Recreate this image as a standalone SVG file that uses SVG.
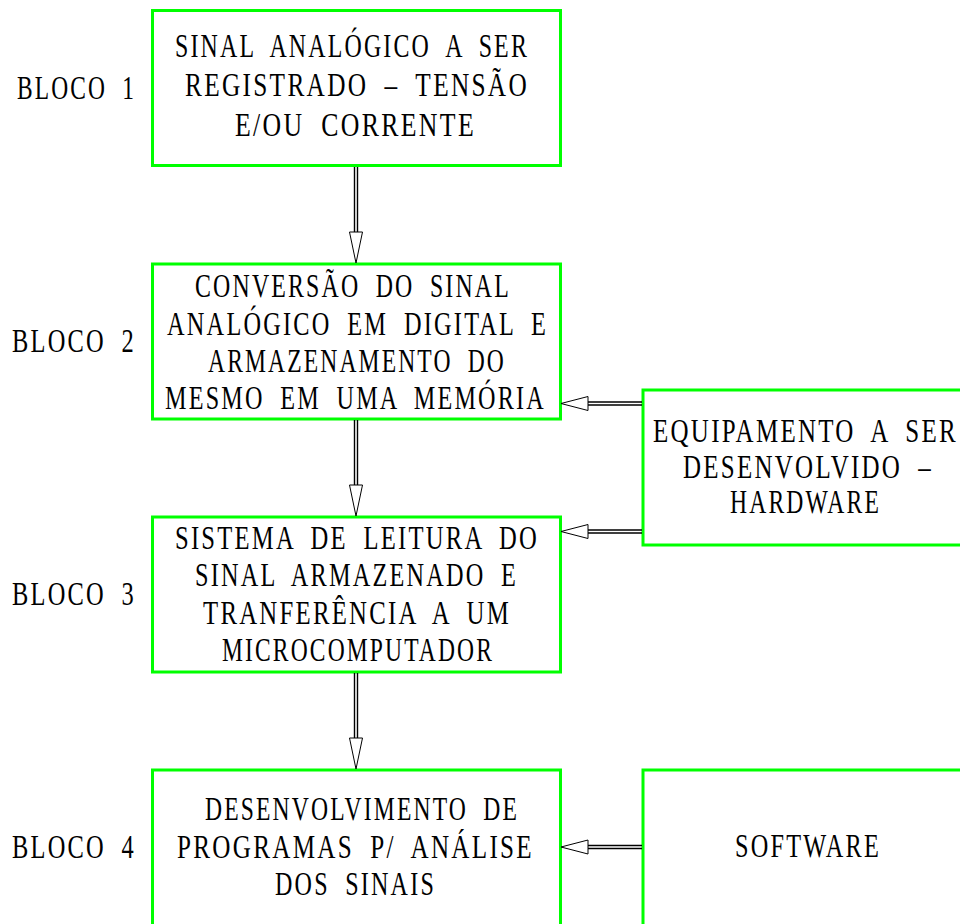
<svg xmlns="http://www.w3.org/2000/svg" width="960" height="924" viewBox="0 0 960 924">
<style>
.box{fill:none;stroke:#00ff00;stroke-width:3}
.t{font-family:"Liberation Serif","DejaVu Serif",serif;font-size:33px;fill:#000;letter-spacing:3px;word-spacing:10px}
.shaft{stroke:#000;stroke-width:1.4;fill:none}
.head{fill:#fff;stroke:#000;stroke-width:1}
</style>
<rect width="960" height="924" fill="#fff"/>
<g id="label1"><text class="t" x="17" y="99" textLength="119" lengthAdjust="spacingAndGlyphs">BLOCO 1</text></g>
<g id="label2"><text class="t" x="12" y="352" textLength="124" lengthAdjust="spacingAndGlyphs">BLOCO 2</text></g>
<g id="label3"><text class="t" x="12" y="605" textLength="124" lengthAdjust="spacingAndGlyphs">BLOCO 3</text></g>
<g id="label4"><text class="t" x="12" y="858" textLength="124" lengthAdjust="spacingAndGlyphs">BLOCO 4</text></g>
<g id="bloco1">
<rect class="box" x="152.5" y="10.5" width="408" height="155"/>
<text class="t" x="175" y="57" textLength="354" lengthAdjust="spacingAndGlyphs">SINAL ANALÓGICO A SER</text>
<text class="t" x="185" y="96" textLength="344" lengthAdjust="spacingAndGlyphs">REGISTRADO – TENSÃO</text>
<text class="t" x="235" y="136" textLength="241" lengthAdjust="spacingAndGlyphs">E/OU CORRENTE</text>
</g>
<g id="bloco2">
<rect class="box" x="152.5" y="264" width="408" height="155"/>
<text class="t" x="195" y="297" textLength="316" lengthAdjust="spacingAndGlyphs">CONVERSÃO DO SINAL</text>
<text class="t" x="167" y="335" textLength="381" lengthAdjust="spacingAndGlyphs">ANALÓGICO EM DIGITAL E</text>
<text class="t" x="208" y="372" textLength="298" lengthAdjust="spacingAndGlyphs">ARMAZENAMENTO DO</text>
<text class="t" x="165" y="409" textLength="381" lengthAdjust="spacingAndGlyphs">MESMO EM UMA MEMÓRIA</text>
</g>
<g id="bloco3">
<rect class="box" x="152.5" y="517" width="408" height="155"/>
<text class="t" x="175" y="549" textLength="364" lengthAdjust="spacingAndGlyphs">SISTEMA DE LEITURA DO</text>
<text class="t" x="195" y="586" textLength="323" lengthAdjust="spacingAndGlyphs">SINAL ARMAZENADO E</text>
<text class="t" x="203" y="624" textLength="308" lengthAdjust="spacingAndGlyphs">TRANFERÊNCIA A UM</text>
<text class="t" x="222" y="661" textLength="272" lengthAdjust="spacingAndGlyphs">MICROCOMPUTADOR</text>
</g>
<g id="bloco4">
<rect class="box" x="152.5" y="770" width="408" height="157"/>
<text class="t" x="205" y="820" textLength="314" lengthAdjust="spacingAndGlyphs">DESENVOLVIMENTO DE</text>
<text class="t" x="177" y="858" textLength="357" lengthAdjust="spacingAndGlyphs">PROGRAMAS P/ ANÁLISE</text>
<text class="t" x="275" y="895" textLength="161" lengthAdjust="spacingAndGlyphs">DOS SINAIS</text>
</g>
<g id="hardware">
<rect class="box" x="643" y="390" width="319" height="155"/>
<text class="t" x="653" y="442" textLength="305" lengthAdjust="spacingAndGlyphs">EQUIPAMENTO A SER</text>
<text class="t" x="683" y="478" textLength="250" lengthAdjust="spacingAndGlyphs">DESENVOLVIDO –</text>
<text class="t" x="730" y="513" textLength="151" lengthAdjust="spacingAndGlyphs">HARDWARE</text>
</g>
<g id="software">
<rect class="box" x="643" y="770" width="319" height="157"/>
<text class="t" x="735" y="857" textLength="146" lengthAdjust="spacingAndGlyphs">SOFTWARE</text>
</g>
<g id="connectors">
<path class="shaft" d="M354.5 167V232M357.5 167V232"/>
<polygon class="head" points="349.5,232 362.5,232 356,263"/>
<path class="shaft" d="M354.5 420V485M357.5 420V485"/>
<polygon class="head" points="349.5,485 362.5,485 356,516"/>
<path class="shaft" d="M354.5 673V738M357.5 673V738"/>
<polygon class="head" points="349.5,738 362.5,738 356,769"/>
<path class="shaft" d="M588 402H642M588 405H642"/>
<polygon class="head" points="588,396.5 588,410.5 561,403.5"/>
<path class="shaft" d="M588 530H642M588 533H642"/>
<polygon class="head" points="588,524.5 588,538.5 561,531.5"/>
<path class="shaft" d="M588 845.5H642M588 848.5H642"/>
<polygon class="head" points="588,840 588,854 561,847"/>
</g>
</svg>
